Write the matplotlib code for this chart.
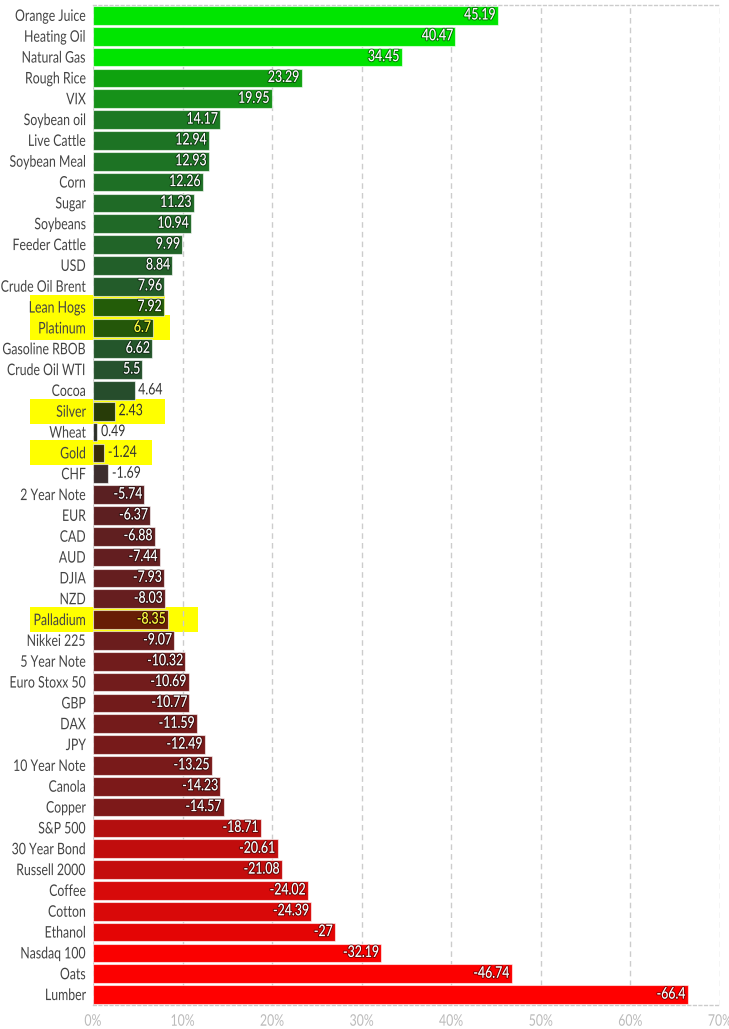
import numpy as np
import matplotlib
matplotlib.use("Agg")
import matplotlib.pyplot as plt
import matplotlib.patheffects as pe
from matplotlib.patches import Rectangle
from matplotlib.transforms import Affine2D

plt.rcParams['font.family'] = ['Lato', 'DejaVu Sans']

# data
names = ["Orange Juice", "Heating Oil", "Natural Gas", "Rough Rice", "VIX",
         "Soybean oil", "Live Cattle", "Soybean Meal", "Corn", "Sugar",
         "Soybeans", "Feeder Cattle", "USD", "Crude Oil Brent", "Lean Hogs",
         "Platinum", "Gasoline RBOB", "Crude Oil WTI", "Cocoa", "Silver",
         "Wheat", "Gold", "CHF", "2 Year Note", "EUR", "CAD", "AUD", "DJIA",
         "NZD", "Palladium", "Nikkei 225", "5 Year Note", "Euro Stoxx 50",
         "GBP", "DAX", "JPY", "10 Year Note", "Canola", "Copper", "S&P 500",
         "30 Year Bond", "Russell 2000", "Coffee", "Cotton", "Ethanol",
         "Nasdaq 100", "Oats", "Lumber"]
values = [45.19, 40.47, 34.45, 23.29, 19.95, 14.17, 12.94, 12.93, 12.26, 11.23,
          10.94, 9.99, 8.84, 7.96, 7.92, 6.7, 6.62, 5.5, 4.64, 2.43,
          0.49, -1.24, -1.69, -5.74, -6.37, -6.88, -7.44, -7.93,
          -8.03, -8.35, -9.07, -10.32, -10.69,
          -10.77, -11.59, -12.49, -13.25, -14.23, -14.57, -18.71,
          -20.61, -21.08, -24.02, -24.39, -27,
          -32.19, -46.74, -66.4]
xticks = [0, 10, 20, 30, 40, 50, 60, 70]

# highlighted (marker pen) labels and how far right the highlight reaches
highlight = ["Lean Hogs", "Platinum", "Silver", "Gold", "Palladium"]
highlight_end = [8.0, 8.6, 8.0, 6.6, 11.7]

# colour scale: value -> rgb
pos_v = [0, 2.5, 5, 10, 14, 20, 23, 34, 50]
pos_c = [(44, 44, 40), (40, 60, 40), (38, 80, 45), (33, 100, 40), (28, 120, 35),
         (22, 145, 25), (15, 160, 15), (0, 228, 0), (0, 230, 0)]
neg_v = [0, 1.7, 5.7, 10, 14.6, 18.7, 24, 27, 32, 70]
neg_c = [(48, 40, 40), (60, 45, 45), (90, 32, 34), (112, 28, 28), (125, 25, 25),
         (180, 15, 15), (215, 10, 10), (228, 5, 5), (250, 0, 0), (255, 0, 0)]

SQ = 0.77  # the reference font is narrow, squeeze Lato horizontally


def color_for(v):
    if v >= 0:
        xs, cs = pos_v, pos_c
    else:
        xs, cs = neg_v, neg_c
    a = abs(v)
    rgb = [np.interp(a, xs, [c[i] for c in cs]) / 255 for i in range(3)]
    return rgb


def squeeze_affine(tpath, affine, anchor):
    ext = tpath.get_extents()
    if anchor == "right":
        x0 = ext.x1
    elif anchor == "left":
        x0 = ext.x0
    else:
        x0 = (ext.x0 + ext.x1) / 2
    return Affine2D().translate(-x0, 0).scale(SQ, 1).translate(x0, 0) + affine


class Squeeze(pe.Normal):
    def __init__(self, anchor="right"):
        super().__init__()
        self.anchor = anchor

    def draw_path(self, renderer, gc, tpath, affine, rgbFace=None):
        super().draw_path(renderer, gc, tpath,
                          squeeze_affine(tpath, affine, self.anchor), rgbFace)


class SqueezeStroke(pe.Stroke):
    def __init__(self, anchor="right", **kw):
        super().__init__(**kw)
        self.anchor = anchor

    def draw_path(self, renderer, gc, tpath, affine, rgbFace=None):
        super().draw_path(renderer, gc, tpath,
                          squeeze_affine(tpath, affine, self.anchor), rgbFace)


n = len(names)
y = np.arange(n)[::-1]
absv = np.abs(values)
colors = []
for nm, v in zip(names, values):
    c = color_for(v)
    if nm in highlight:
        c = [c[0], c[1], c[2] * 0.2]
    colors.append(c)

fig = plt.figure(figsize=(7.29, 10.29), dpi=100)
ax = fig.add_axes([93 / 729, 1 - 1005 / 1029, 627 / 729, 1000 / 1029])

ax.barh(y, absv, height=0.9, color=colors, edgecolor=(1, 1, 1, 0.6),
        linewidth=0.8, zorder=2)

# yellow highlights behind labels
for nm, xe in zip(highlight, highlight_end):
    i = names.index(nm)
    ax.add_patch(Rectangle((-7.0, y[i] - 0.6), xe + 7.0, 1.2, facecolor="#ffff00",
                           edgecolor="none", zorder=0.3, clip_on=False))

for yi, nm, v, a in zip(y, names, values, absv):
    txt = f"{v:g}"
    if a >= 5:
        tc = "#ffff40" if nm in ("Platinum", "Palladium") else "white"
        ax.text(a - 0.2, yi, txt, ha="right", va="center", fontsize=11.5,
                color=tc, zorder=4,
                path_effects=[SqueezeStroke("right", linewidth=1.5,
                                            foreground=(0, 0, 0, 0.45)),
                              Squeeze("right")])
    else:
        ax.text(a + 0.4, yi, txt, ha="left", va="center", fontsize=11.5,
                color="#333333", zorder=4, path_effects=[Squeeze("left")])

ax.set_xlim(0, 70)
ax.set_ylim(-0.5, n - 0.5)
ax.set_yticks(y)
ax.set_yticklabels(names, fontsize=11.5, color="#444444")
ax.set_xticks(xticks)
ax.set_xticklabels([f"{t}%" for t in xticks], fontsize=11.5, color="#bbbbbb")
for lbl in ax.get_yticklabels():
    lbl.set_path_effects([Squeeze("right")])
for lbl in ax.get_xticklabels():
    lbl.set_path_effects([Squeeze("center")])
ax.tick_params(axis="both", length=0)
ax.tick_params(axis="y", pad=5)
ax.tick_params(axis="x", pad=7)

ax.set_axisbelow(True)
ax.grid(axis="x", color="#cccccc", linestyle=(0, (4, 3)), linewidth=1)
for s in ["left", "right"]:
    ax.spines[s].set_visible(False)
for s in ["top", "bottom"]:
    ax.spines[s].set_color("#cccccc")
    ax.spines[s].set_linestyle((0, (2, 2)))
    ax.spines[s].set_linewidth(1)

fig.savefig("out.png", dpi=100)
